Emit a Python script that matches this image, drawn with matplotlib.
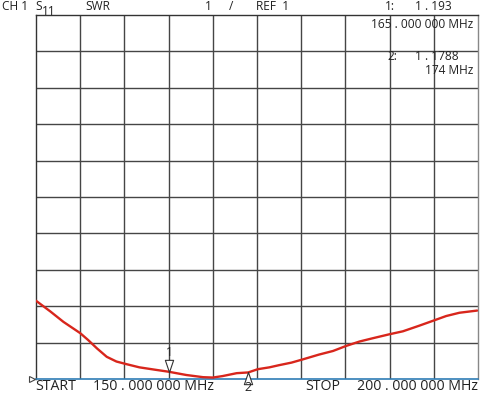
import matplotlib
matplotlib.use("Agg")
import matplotlib.pyplot as plt
import numpy as np

# Data: frequency (MHz) and SWR
freq = [150.0, 151.6, 153.1, 155.0, 155.9, 156.9, 158.0, 159.1, 160.2, 161.7,
        163.6, 165.0, 167.0, 168.9, 170.0, 171.1, 172.7, 174.0, 175.1, 176.4,
        177.5, 178.9, 180.2, 182.0, 183.6, 185.1, 186.6, 188.1, 190.0, 191.5,
        193.3, 194.8, 196.4, 197.9, 199.9]
swr = [3.15, 2.86, 2.57, 2.26, 2.07, 1.84, 1.61, 1.48, 1.41, 1.32,
       1.25, 1.20, 1.11, 1.05, 1.04, 1.08, 1.16, 1.18, 1.27, 1.32,
       1.38, 1.45, 1.54, 1.67, 1.77, 1.91, 2.03, 2.12, 2.23, 2.31,
       2.46, 2.59, 2.73, 2.82, 2.88]

marker_freq = [165.0, 174.0]
marker_swr = [1.20, 1.1788]
marker_labels = ["1", "2"]

f_start, f_stop = 150.0, 200.0
ref_val, per_div = 1.0, 1.0

W, H = 480, 394
fig = plt.figure(figsize=(W / 100, H / 100), dpi=100)
plt.rcParams['font.family'] = ['Open Sans', 'DejaVu Sans']

L, R, T, B = 36, 478, 15, 379
ax = fig.add_axes([L / W, 1 - B / H, (R - L) / W, (B - T) / H])
ax.set_xlim(f_start, f_stop)
ax.set_ylim(ref_val, ref_val + 10 * per_div)

grid_c = '#454545'
for i in range(1, 10):
    ax.axvline(f_start + i * (f_stop - f_start) / 10, color=grid_c, lw=1.0, zorder=1)
    ax.axhline(ref_val + i * per_div, color=grid_c, lw=1.0, zorder=1)
for s in ['left', 'top']:
    ax.spines[s].set_color('#333333')
    ax.spines[s].set_linewidth(1.0)
ax.spines['right'].set_color('#888888')
ax.spines['right'].set_linewidth(1.0)
ax.spines['bottom'].set_color('#2f7db5')
ax.spines['bottom'].set_linewidth(1.2)
ax.set_xticks([])
ax.set_yticks([])

ax.plot(freq, swr, color='#d8261c', lw=1.7, zorder=3, solid_capstyle='round')

# markers
down = [(0, 0), (-0.34, 1), (0.34, 1), (0, 0)]
up = [(0, 0), (-0.34, -1), (0.34, -1), (0, 0)]
ax.plot([marker_freq[0]], [marker_swr[0]], marker=down, ms=17.5, mfc='white',
        mec='#333333', mew=0.8, ls='none', zorder=4, clip_on=False)
ax.plot([marker_freq[1]], [marker_swr[1]], marker=up, ms=17.5, mfc='white',
        mec='#333333', mew=0.8, ls='none', zorder=4, clip_on=False)
# reference position marker
ax.plot([f_start - 0.45], [ref_val], marker='>', ms=4, mfc='white',
        mec='#444444', mew=0.8, ls='none', clip_on=False, zorder=4)

fs = 8.6
fsb = 10.2
tc = '#222222'

def t(x, y, s, ha='left', size=fs):
    fig.text(x / W, 1 - y / H, s, ha=ha, va='center', fontsize=size, color=tc)

t(2, 7, "CH 1")
t(35, 7, "S")
t(42, 11.5, "11")
t(85, 7, "SWR")
t(205, 7, "1")
t(229, 7, "/")
t(256, 7, "REF  1")
t(385, 7, "1:")
t(452, 7, "1 . 193", ha='right')
t(473, 25, "165 . 000 000 MHz", ha='right')
t(387, 56, "2:")
t(459, 56, "1 . 1788", ha='right')
t(473, 70, "174 MHz", ha='right')

t(165.5, 353, marker_labels[0], size=fs)
t(244, 387.5, marker_labels[1], size=9)

t(35, 387, "START", size=fsb)
t(93, 387, "150 . 000 000 MHz", size=fsb)
t(305, 387, "STOP", size=fsb)
t(478, 387, "200 . 000 000 MHz", ha='right', size=fsb)

fig.savefig("out.png", dpi=100)
